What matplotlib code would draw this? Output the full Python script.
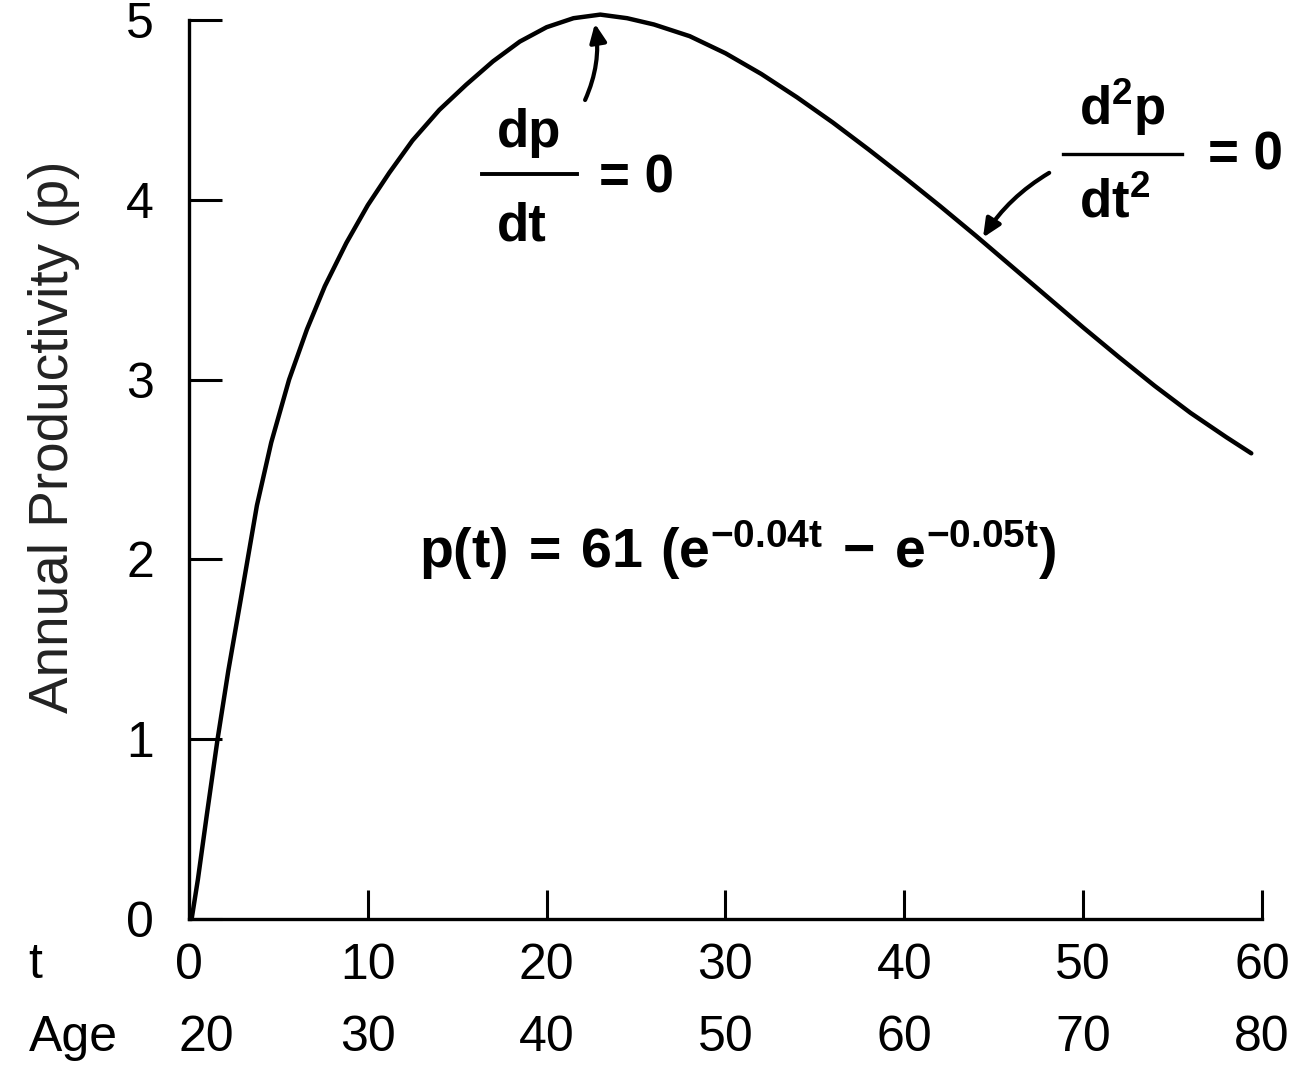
import matplotlib
matplotlib.use("Agg")
import matplotlib.pyplot as plt

# curve (t in years, p = annual productivity)
t_vals = [0.15, 0.5, 1.0, 1.6, 2.2, 2.9, 3.8, 4.6, 5.6, 6.6, 7.6, 8.8, 10, 11.2,
          12.5, 14, 15.5, 17, 18.5, 20, 21.5, 23, 24.5, 26, 28, 30, 32, 34, 36,
          38, 40, 42, 44, 46, 48, 50, 52, 54, 56, 58, 59.4]
p_vals = [0.0, 0.22, 0.58, 1.0, 1.38, 1.78, 2.3, 2.65, 3.0, 3.28, 3.52, 3.76,
          3.97, 4.15, 4.33, 4.5, 4.64, 4.77, 4.88, 4.96, 5.01, 5.03, 5.01, 4.975,
          4.91, 4.815, 4.70, 4.57, 4.43, 4.28, 4.125, 3.965, 3.80, 3.63, 3.46,
          3.29, 3.125, 2.965, 2.815, 2.68, 2.59]

t_ticks = [0, 10, 20, 30, 40, 50, 60]
age_labels = ["20", "30", "40", "50", "60", "70", "80"]
p_ticks = [0, 1, 2, 3, 4, 5]

plt.rcParams["font.family"] = ["Liberation Sans", "DejaVu Sans"]
plt.rcParams["mathtext.fontset"] = "custom"
plt.rcParams["mathtext.bf"] = "Liberation Sans:bold"
plt.rcParams["mathtext.rm"] = "Liberation Sans"

fig = plt.figure(figsize=(13.04, 10.84), dpi=100)
ax = fig.add_axes([0.1449, 0.1522, 0.9678 - 0.1449, 0.98155 - 0.1522])

ax.plot(t_vals, p_vals, color="black", lw=3.2, solid_capstyle="round",
        solid_joinstyle="round", clip_on=False)

ax.set_xlim(0, 60)
ax.set_ylim(0, 5)
for side in ("top", "right"):
    ax.spines[side].set_visible(False)
for side in ("left", "bottom"):
    ax.spines[side].set_linewidth(2.4)

ax.set_yticks(p_ticks)
ax.set_yticklabels([str(v) for v in p_ticks])
ax.set_xticks(t_ticks)
ax.set_xticklabels([str(v) for v in t_ticks])
ax.tick_params(axis="y", direction="in", length=24, width=2.2, labelsize=36, pad=25)
ax.tick_params(axis="x", direction="in", length=21, width=2.2, labelsize=36, pad=17)

# second row of x labels: age
for t, age in zip(t_ticks, age_labels):
    if t == 0:
        ax.annotate(age, (t, 0), xycoords="data", xytext=(-10, -119), textcoords="offset pixels",
                    ha="left", va="center", fontsize=36)
    else:
        ax.annotate(age, (t, 0), xycoords="data", xytext=(0, -119), textcoords="offset pixels",
                    ha="center", va="center", fontsize=36)
fig.text(35 / 1304, 1 - 965 / 1084, "t", ha="center", va="center", fontsize=36)
fig.text(73 / 1304, 1 - 1038 / 1084, "Age", ha="center", va="center", fontsize=36)

fig.text(54 / 1304, 1 - 437 / 1084, "Annual Productivity (p)", rotation=90,
         ha="center", va="center", fontsize=39.5, color="#222222")

# formula
ax.text(30.7, 2.05, r"$\mathbf{p(t)\,=\,61\ (e^{-0.04t}\,-\,e^{-0.05t})}$",
        ha="center", va="center", fontsize=40)

arrow_style = dict(arrowstyle="-|>,head_length=1.1,head_width=0.5", color="black",
                   lw=3.0, shrinkA=0, shrinkB=0)

# dp/dt = 0
bold = dict(fontsize=38, fontweight="bold")
ax.text(17.2, 4.294, "dp", ha="left", va="baseline", **bold)
ax.plot([16.4, 21.7], [4.143, 4.143], color="black", lw=2.8, clip_on=False)
ax.text(17.2, 3.776, "dt", ha="left", va="baseline", **bold)
ax.text(22.9, 4.038, "= 0", ha="left", va="baseline", **bold)
ax.annotate("", xy=(22.7, 4.98), xytext=(22.15, 4.555),
            arrowprops=dict(connectionstyle="arc3,rad=0.15", **arrow_style))

# d2p/dt2 = 0
ax.text(49.75, 4.416, r"$\mathbf{d^2p}$", ha="left", va="baseline", fontsize=38)
ax.plot([48.9, 55.5], [4.255, 4.255], color="black", lw=2.4, clip_on=False)
ax.text(49.75, 3.904, r"$\mathbf{dt^2}$", ha="left", va="baseline", fontsize=38)
ax.text(57.0, 4.166, "= 0", ha="left", va="baseline", **bold)
ax.annotate("", xy=(44.4, 3.79), xytext=(48.1, 4.15),
            arrowprops=dict(connectionstyle="arc3,rad=0.12", **arrow_style))

fig.savefig("out.png", dpi=100)
